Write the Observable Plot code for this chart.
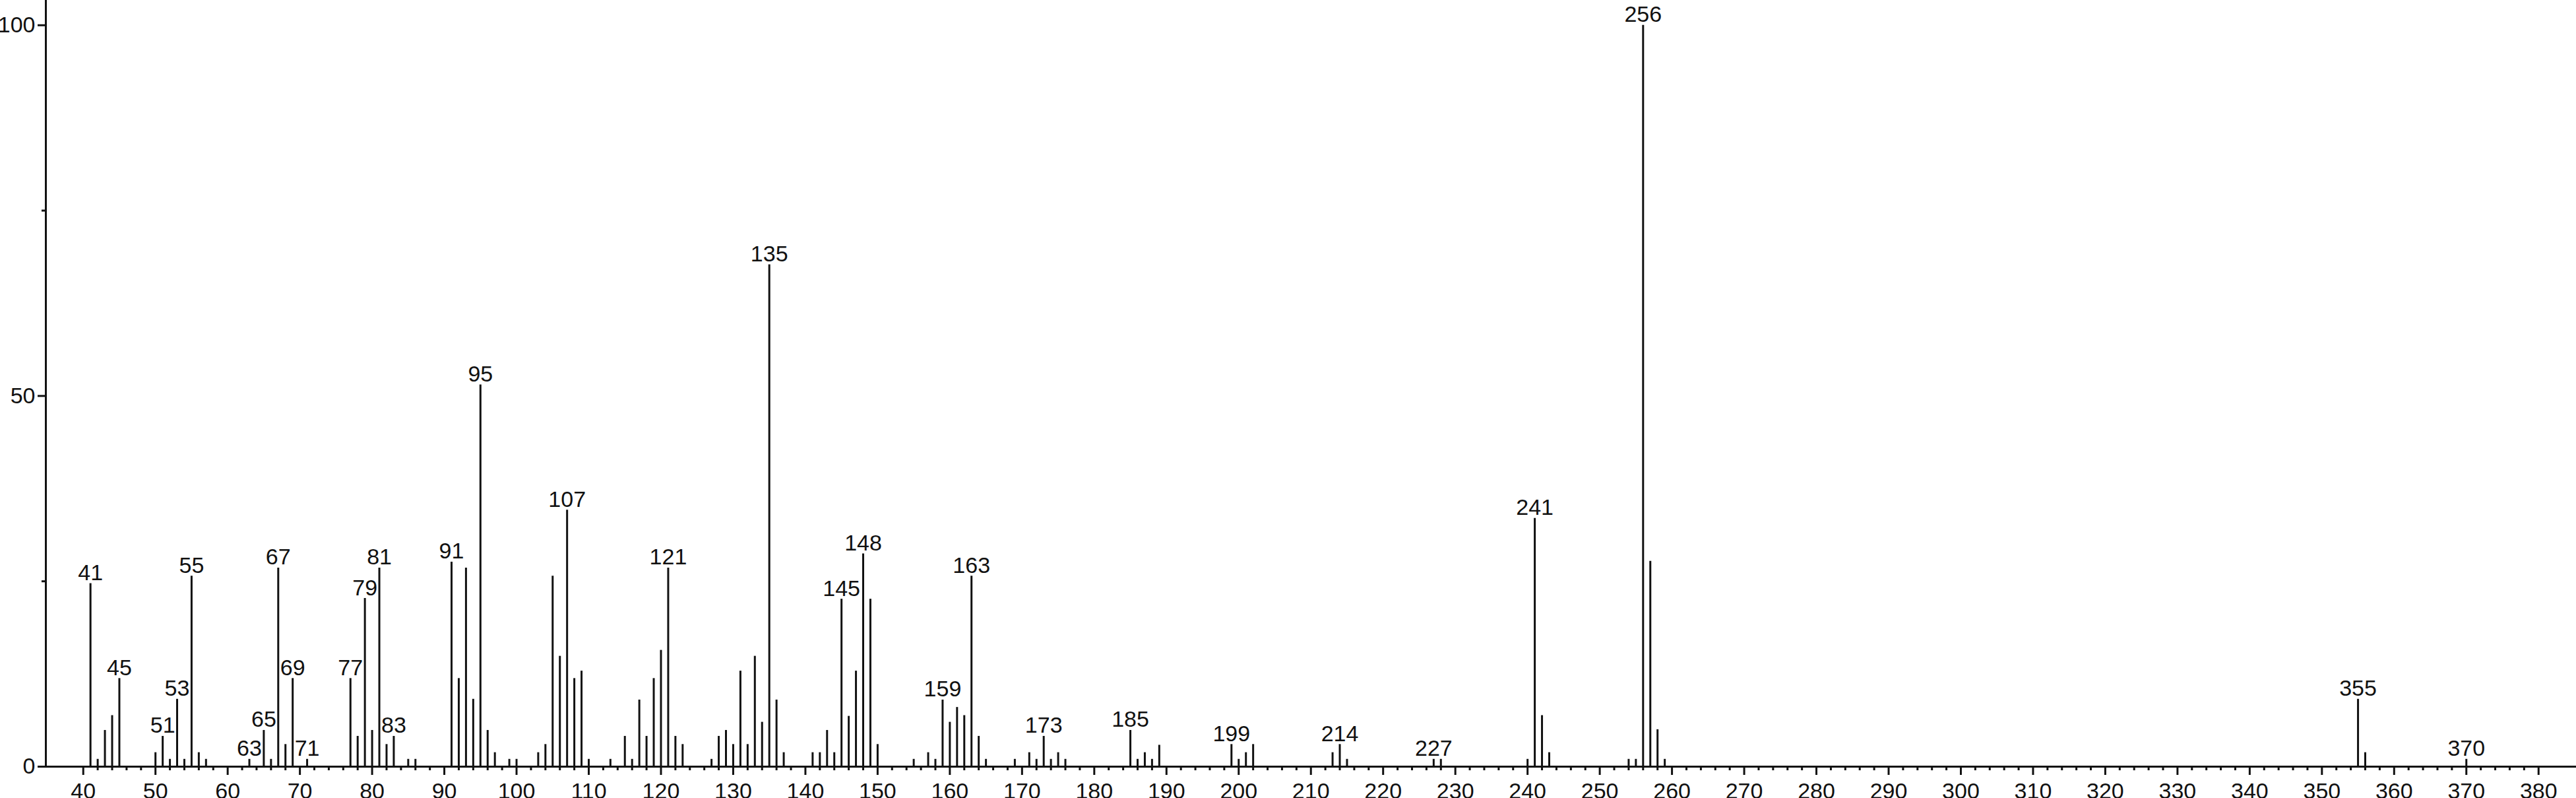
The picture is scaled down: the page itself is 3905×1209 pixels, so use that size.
<!DOCTYPE html>
<html>
<head>
<meta charset="utf-8">
<script src="https://cdn.jsdelivr.net/npm/d3@7"></script>
<script src="https://cdn.jsdelivr.net/npm/@observablehq/plot@0.6"></script>
<style>
  html, body { margin: 0; padding: 0; background: #fff; }
  #chart svg { display: block; }
</style>
</head>
<body>
<div id="chart"></div>
<script>
// m/z values of the peaks
const mz = [41,42,43,44,45,50,51,52,53,54,55,56,57,63,65,66,67,68,69,71,77,78,79,80,81,82,83,85,86,
  91,92,93,94,95,96,97,99,100,103,104,105,106,107,108,109,110,113,115,116,117,118,119,120,121,122,123,
  127,128,129,130,131,132,133,134,135,136,137,141,142,143,144,145,146,147,148,149,150,155,157,158,
  159,160,161,162,163,164,165,169,171,172,173,174,175,176,185,186,187,188,189,199,200,201,202,
  213,214,215,227,228,240,241,242,243,254,255,256,257,258,259,355,356,370];
// relative intensities (%)
const intensity = [24.7,1,4.9,6.9,11.9,1.9,4.1,1,9.1,1,25.7,1.9,1,1,4.9,1,26.8,3,11.9,1,11.9,4.1,22.7,4.9,26.8,3,4.1,1,1,
  27.6,11.9,26.8,9.1,51.5,4.9,1.9,1,1,1.9,3,25.7,14.9,34.6,11.9,12.9,1,1,4.1,1,9,4.1,11.9,15.7,26.8,4.1,3,
  1,4.1,4.9,3,12.9,3,14.9,6,67.7,9,1.9,1.9,1.9,4.9,1.9,22.6,6.8,12.9,28.7,22.6,3,1,1.9,1,
  9,6,8,6.9,25.7,4.1,1,1,1.9,1,4.1,1,1.9,1,4.9,1,1.9,1,2.9,3,1,1.9,3,
  1.9,3,1,1,1,1,33.5,6.9,1.9,1,1,100,27.7,5,1,9.1,1.9,1];
// peaks that carry a label
const labeledPeaks = [41,45,51,53,55,63,65,67,69,71,77,79,81,83,91,95,107,121,135,145,148,159,163,173,185,199,214,227,241,256,355,370];
// axis tick labels
const xTickLabels = [40,50,60,70,80,90,100,110,120,130,140,150,160,170,180,190,200,210,220,230,240,250,260,270,280,290,300,310,320,330,340,350,360,370,380];
const yTickLabels = [0,50,100];
const yMinorTicks = [25,75];

const data = mz.map((m, i) => ({mz: m, intensity: intensity[i]}));
const labeled = data.filter(d => labeledPeaks.includes(d.mz));
const xMinorTicks = d3.range(40, 381, 2).filter(v => v % 10 !== 0);

const xDomain = [34.82, 385.23];
const ink = "#111";

const chart = Plot.plot({
  width: 3905,
  height: 1209,
  marginLeft: 69,
  marginRight: 0,
  marginTop: 0,
  marginBottom: 48,
  x: {domain: xDomain},
  y: {domain: [0, 103.36]},
  style: {
    fontFamily: "'Liberation Sans', Arial, sans-serif",
    fontSize: "34px",
    color: ink,
    background: "white",
    overflow: "visible"
  },
  marks: [
    Plot.ruleX(data, {x: "mz", y1: 0, y2: "intensity", stroke: ink, strokeWidth: 3}),
    Plot.ruleY([0], {stroke: ink, strokeWidth: 3}),
    Plot.ruleX([xDomain[0]], {stroke: ink, strokeWidth: 3}),
    Plot.axisX(xTickLabels, {tickSize: 13, tickPadding: 11, stroke: ink, strokeWidth: 3, fill: ink, label: null, tickFormat: d => String(d)}),
    Plot.axisX(xMinorTicks, {tickSize: 6, text: null, stroke: ink, strokeWidth: 3, label: null}),
    Plot.axisY(yTickLabels, {tickSize: 12, tickPadding: 4, stroke: ink, strokeWidth: 3, fill: ink, label: null, tickFormat: d => String(d)}),
    Plot.axisY(yMinorTicks, {tickSize: 6, text: null, stroke: ink, strokeWidth: 3, label: null}),
    Plot.text(labeled, {x: "mz", y: "intensity", text: d => String(d.mz), dy: -5, lineAnchor: "bottom", textAnchor: "middle", fill: ink, fontSize: 34})
  ]
});
document.getElementById("chart").appendChild(chart);
</script>
</body>
</html>
